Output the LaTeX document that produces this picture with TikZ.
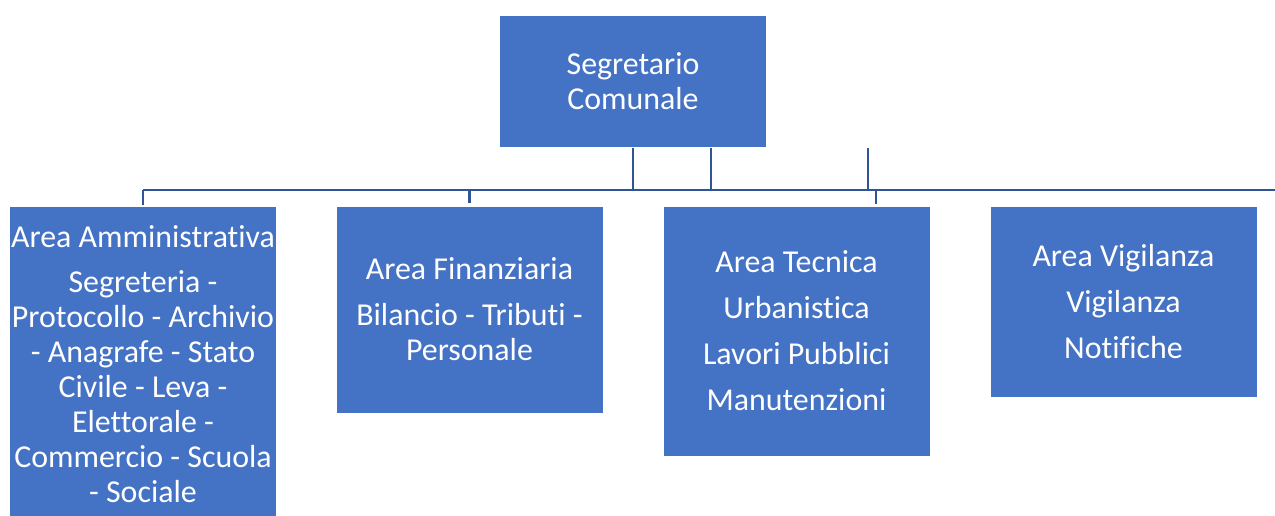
\documentclass[tikz,border=0pt]{standalone}
\usepackage{fontspec}
\setmainfont{Carlito}[Ligatures=NoCommon]
\definecolor{boxblue}{HTML}{4472C4}
\definecolor{lineblue}{HTML}{2F5597}
\begin{document}
\begin{tikzpicture}[x=1pt,y=-1pt,
  box/.style={fill=boxblue, draw=white, line width=0.6pt, inner sep=0pt, text=white, align=center,
    font=\fontsize{31.9}{35}\selectfont, minimum width=267},
  conn/.style={draw=lineblue, line width=2.5pt}]
\useasboundingbox (0,0) rectangle (1275,515);
\clip (0,0) rectangle (1275,515);
\node[box, minimum height=132] (top) at (633,81) {Segretario\\Comunale};
\node[box, minimum height=317] (b1) at (143,364.5) {Area Amministrativa\\[10pt]Segreteria -\\Protocollo - Archivio\\- Anagrafe - Stato\\Civile - Leva -\\Elettorale -\\Commercio - Scuola\\- Sociale};
\node[box, minimum height=207] (b2) at (469.5,309.5) {Area Finanziaria\\[11pt]Bilancio - Tributi -\\Personale};
\node[box, minimum height=250] (b3) at (796.5,331) {Area Tecnica\\[11pt]Urbanistica\\[11pt]Lavori Pubblici\\[11pt]Manutenzioni};
\node[box, minimum height=191] (b4) at (1123.5,301.5) {Area Vigilanza\\[11pt]Vigilanza\\[11pt]Notifiche};
\coordinate (busL) at (143,190);
\coordinate (busR) at (1275,190);
\coordinate (v2) at (711,148);
\coordinate (v3) at (868,148);
\coordinate (d3) at (876,204);
\draw[conn] (busL) -- (busR);
\draw[conn] ([yshift=-1pt]top.south) -- (top.south |- busL);
\draw[conn] (v2) -- (v2 |- busL);
\draw[conn] (v3) -- (v3 |- busL);
\draw[conn] (busL) -- ([yshift=1pt]b1.north);
\draw[conn] (b2.north |- busL) -- ([yshift=3pt]b2.north);
\draw[conn] (d3 |- busL) -- (d3);
\end{tikzpicture}
\end{document}
